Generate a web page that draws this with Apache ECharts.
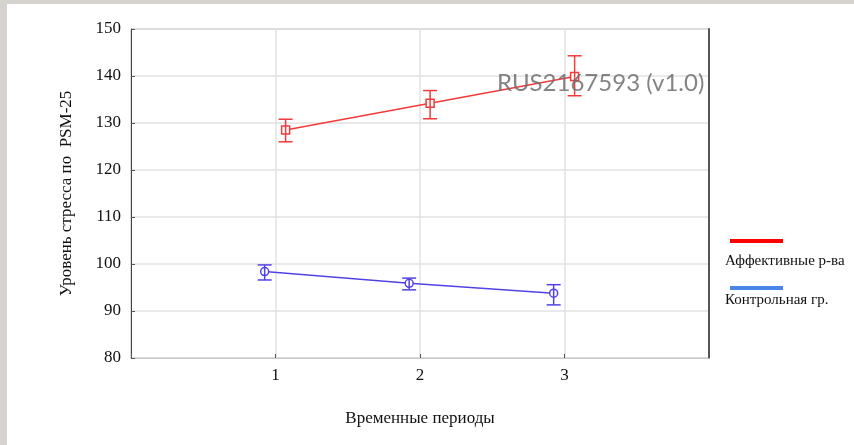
<!DOCTYPE html>
<html>
<head>
<meta charset="utf-8">
<script src="https://cdn.jsdelivr.net/npm/echarts@6/dist/echarts.min.js"></script>
<style>
  html, body { margin: 0; padding: 0; background: #fff; }
  #chart { width: 854px; height: 445px; }
</style>
</head>
<body>
<div id="chart"></div>
<script>
// periods on the x axis
const periods = [1, 2, 3];
// group names
const groupNames = ['Аффективные р-ва', 'Контрольная гр.'];
// affective group: mean and error bar ends
const affMean = [128.5, 134.2, 139.9];
const affLow = [126.0, 130.9, 135.8];
const affHigh = [130.8, 136.9, 144.3];
// control group
const ctrlMean = [98.4, 95.9, 93.8];
const ctrlLow = [96.6, 94.5, 91.3];
const ctrlHigh = [99.8, 97.0, 95.6];
// y ticks
const yMin = 80, yMax = 150, yStep = 10;

const serif = 'Liberation Serif';
const affColor = '#f23a3a';
const ctrlColor = '#5242e6';
// small horizontal shift so the groups do not overlap
const affShift = 0.07, ctrlShift = -0.075;

function points(mean, shift) {
  return periods.map((p, i) => [p + shift, mean[i]]);
}
function bars(low, high, shift) {
  return periods.map((p, i) => [p + shift, low[i], high[i]]);
}
function errorBars(color) {
  return function (params, api) {
    const x = api.value(0);
    const lo = api.coord([x, api.value(1)]);
    const hi = api.coord([x, api.value(2)]);
    const w = 7;
    const st = { stroke: color, lineWidth: 1.5 };
    return {
      type: 'group',
      children: [
        { type: 'line', shape: { x1: lo[0], y1: lo[1], x2: hi[0], y2: hi[1] }, style: st },
        { type: 'line', shape: { x1: lo[0] - w, y1: lo[1], x2: lo[0] + w, y2: lo[1] }, style: st },
        { type: 'line', shape: { x1: hi[0] - w, y1: hi[1], x2: hi[0] + w, y2: hi[1] }, style: st }
      ]
    };
  };
}

let chart = echarts.init(document.getElementById('chart'));
chart.setOption({
  animation: false,
  grid: {
    left: 131, right: 145, top: 29, bottom: 87,
    show: true, borderColor: '#a0a0a0', borderWidth: 1
  },
  xAxis: [{
    type: 'value',
    min: 0, max: 4, interval: 1,
    name: 'Временные периоды',
    nameLocation: 'middle',
    nameGap: 52,
    nameTextStyle: { fontFamily: serif, fontSize: 17, color: '#111' },
    axisLabel: {
      fontFamily: serif, fontSize: 17, color: '#111', margin: 9,
      formatter: v => periods.includes(v) ? String(v) : ''
    },
    axisLine: { lineStyle: { color: '#c8c8c8' } },
    axisTick: { inside: true, length: 4, lineStyle: { color: '#555' } },
    splitLine: { lineStyle: { color: '#e2e2e2', width: 1.5 } }
  }],
  yAxis: [{
    type: 'value',
    min: yMin, max: yMax, interval: yStep,
    name: 'Уровень стресса по  PSM-25',
    nameLocation: 'middle',
    nameGap: 56,
    nameTextStyle: { fontFamily: serif, fontSize: 17, color: '#111' },
    axisLabel: { fontFamily: serif, fontSize: 17, color: '#111', margin: 10 },
    axisLine: { show: true, lineStyle: { color: '#444' } },
    axisTick: { show: true, inside: true, length: 4, lineStyle: { color: '#555' } },
    splitLine: { lineStyle: { color: '#e2e2e2', width: 1.5 } }
  }, {
    type: 'value',
    position: 'right',
    min: yMin, max: yMax, interval: yStep,
    axisLabel: { show: false },
    axisTick: { show: false },
    splitLine: { show: false },
    axisLine: { show: true, lineStyle: { color: '#555', width: 2 } }
  }],
  series: [{
    name: groupNames[0],
    type: 'line',
    data: points(affMean, affShift),
    symbol: 'rect',
    symbolSize: 8,
    itemStyle: { color: '#fff', borderColor: affColor, borderWidth: 1.5 },
    lineStyle: { color: affColor, width: 1.5 },
    z: 3
  }, {
    type: 'custom',
    data: bars(affLow, affHigh, affShift),
    renderItem: errorBars(affColor),
    encode: { x: 0, y: [1, 2] },
    z: 4
  }, {
    name: groupNames[1],
    type: 'line',
    data: points(ctrlMean, ctrlShift),
    symbol: 'circle',
    symbolSize: 8,
    itemStyle: { color: '#fff', borderColor: ctrlColor, borderWidth: 1.5 },
    lineStyle: { color: ctrlColor, width: 1.5 },
    z: 3
  }, {
    type: 'custom',
    data: bars(ctrlLow, ctrlHigh, ctrlShift),
    renderItem: errorBars(ctrlColor),
    encode: { x: 0, y: [1, 2] },
    z: 4
  }],
  graphic: [
    // page frame
    { type: 'rect', left: 0, top: 0, shape: { width: 854, height: 4 }, style: { fill: '#d6d3ce' } },
    { type: 'rect', left: 0, top: 0, shape: { width: 7, height: 445 }, style: { fill: '#d6d3ce' } },
    // legend
    { type: 'rect', left: 730, top: 239, shape: { width: 53, height: 4 }, style: { fill: '#ff0000' } },
    { type: 'text', left: 725, top: 254, style: { text: groupNames[0], font: '15px "Liberation Serif"', fill: '#111' } },
    { type: 'rect', left: 730, top: 286, shape: { width: 53, height: 4 }, style: { fill: '#4a86e8' } },
    { type: 'text', left: 725, top: 293, style: { text: groupNames[1], font: '15px "Liberation Serif"', fill: '#111' } },
    // watermark
    { type: 'text', left: 497, top: 71, z: 100,
      style: { text: 'RUS2167593 (v1.0)', font: '24px Lato', fill: 'rgba(110,110,110,0.85)' } }
  ]
});
window.addEventListener('resize', function () {
  chart.resize();
});
</script>
</body>
</html>
